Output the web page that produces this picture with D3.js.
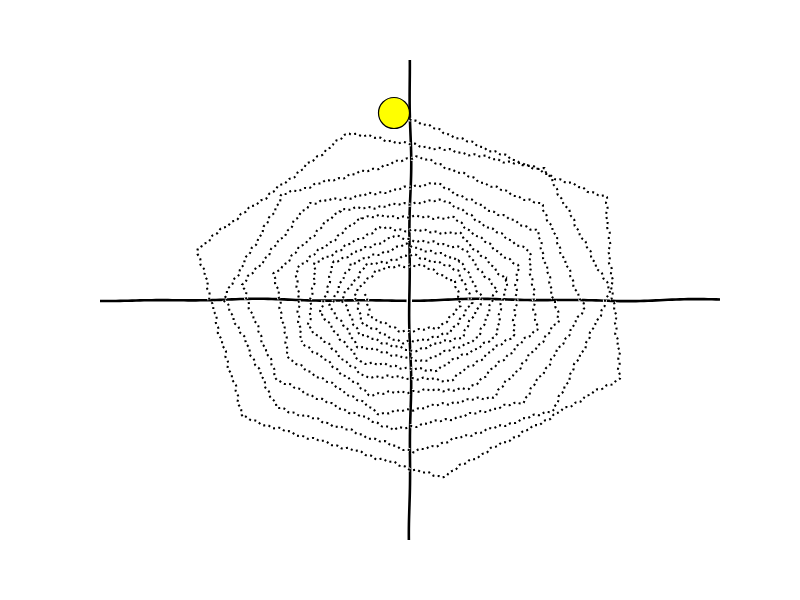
<!DOCTYPE html>
<html>
<head>
<meta charset="utf-8">
<script src="https://cdn.jsdelivr.net/npm/d3@7"></script>
<style>
  html, body { margin: 0; padding: 0; background: #fff; }
  svg { display: block; }
</style>
</head>
<body>
<svg id="chart" width="800" height="600"></svg>
<script>
// ---- data ----
// vertex angle in radians, clockwise from the top
const angles = [0,1,2,3,4,5,6,7,
  7.8,8.6,9.4,10.2,11.0,11.8,12.6,13.4,14.2,15.0,15.8,16.6,17.4,18.2,19.0,19.8,
  20.6,21.4,22.2,23.0,23.8,24.6,25.4,26.2,27.0,27.8,28.6,29.4,30.2,31.0,31.8,32.6,
  33.4,34.2,35.0,35.8,36.6,37.4,38.2,39.0,39.8,40.6,41.4,42.2,43.0,43.8,44.6,45.4,
  46.2,47.0,47.8,48.6,49.4,50.2,51.0,51.8,52.6,53.4,54.2,55.0,55.8,56.6,57.4,58.2,
  59.0,59.8,60.6,61.4,62.2,63.0,63.8,64.6,65.4,66.2,67.0,67.8];
// horizontal radius of each vertex
const radiusX = [2.22,2.32,2.31,2.20,2.21,2.22,2.17,2.05,
  2.01,1.97,1.93,1.90,1.86,1.84,1.81,1.78,1.75,1.74,1.72,1.71,1.69,1.65,1.60,1.56,
  1.52,1.49,1.45,1.42,1.40,1.38,1.36,1.35,1.33,1.29,1.26,1.22,1.20,1.19,1.17,1.16,
  1.14,1.12,1.10,1.08,1.06,1.04,1.02,1.01,0.98,0.96,0.94,0.92,0.91,0.90,0.89,0.88,
  0.86,0.84,0.82,0.80,0.78,0.76,0.75,0.73,0.72,0.71,0.69,0.68,0.67,0.65,0.64,0.63,
  0.61,0.60,0.59,0.57,0.56,0.55,0.54,0.52,0.51,0.50,0.48,0.47];
// vertical radius of each vertex
const radiusY = [1.82,1.90,1.89,1.79,1.80,1.80,1.74,1.75,
  1.71,1.61,1.52,1.50,1.48,1.46,1.44,1.41,1.38,1.35,1.31,1.28,1.25,1.21,1.18,1.18,
  1.17,1.17,1.16,1.12,1.09,1.05,1.03,1.02,1.01,1.00,0.99,0.96,0.94,0.91,0.89,0.88,
  0.87,0.86,0.84,0.82,0.79,0.76,0.75,0.75,0.75,0.74,0.72,0.70,0.68,0.65,0.64,0.64,
  0.63,0.62,0.60,0.58,0.57,0.55,0.54,0.53,0.52,0.52,0.50,0.48,0.47,0.45,0.45,0.44,
  0.44,0.43,0.41,0.39,0.37,0.36,0.35,0.34,0.33,0.32,0.31,0.30];
// the yellow circle
const sunX = [-0.16];
const sunY = [1.87];
// axis limits
const xLimits = [-3.1, 3.1];
const yLimits = [-2.4, 2.4];

// ---- layout ----
const svg = d3.select("#chart");
const plotLeft = 100, plotRight = 720, plotTop = 60, plotBottom = 540;
const x = d3.scaleLinear().domain(xLimits).range([plotLeft, plotRight]);
const y = d3.scaleLinear().domain(yLimits).range([plotBottom, plotTop]);

const pts = angles.map((a, i) => [
  x(radiusX[i] * Math.sin(a)),
  y(radiusY[i] * Math.cos(a))
]);

// hand-drawn (xkcd-like) jitter applied to a pixel polyline
function sketch(poly, amp, step, seed) {
  const out = [];
  let s = 0;
  for (let i = 0; i < poly.length - 1; i++) {
    const [x0, y0] = poly[i], [x1, y1] = poly[i + 1];
    const len = Math.hypot(x1 - x0, y1 - y0);
    if (len === 0) continue;
    const nx = -(y1 - y0) / len, ny = (x1 - x0) / len;
    const n = Math.max(1, Math.round(len / step));
    for (let j = 0; j < n; j++) {
      const t = j / n, ss = s + t * len;
      const off = amp * (0.45 * Math.sin(ss / 6 + seed) + 0.5 * Math.sin(ss / 1.9 + seed * 1.7) + 0.3 * Math.sin(ss / 21 + seed * 0.3));
      out.push([x0 + (x1 - x0) * t + nx * off, y0 + (y1 - y0) * t + ny * off]);
    }
    s += len;
  }
  out.push(poly[poly.length - 1]);
  return out;
}

function wiggleLine(x0, y0, x1, y1, amp, seed) {
  const len = Math.hypot(x1 - x0, y1 - y0);
  const n = Math.max(2, Math.round(len / 4));
  const nx = -(y1 - y0) / len, ny = (x1 - x0) / len;
  const out = [];
  for (let i = 0; i <= n; i++) {
    const t = i / n, s = t * len;
    const off = amp * (0.7 * Math.sin(s / 38 + seed) + 0.45 * Math.sin(s / 17 + seed * 2.3));
    out.push([x0 + (x1 - x0) * t + nx * off, y0 + (y1 - y0) * t + ny * off]);
  }
  return d3.line()(out);
}

// ---- axes (spines through zero, no ticks) ----
const gx = svg.append("g").attr("transform", `translate(0,${y(0)})`)
  .call(d3.axisBottom(x).tickValues([]).tickSizeOuter(0));
const gy = svg.append("g").attr("transform", `translate(${x(0)},0)`)
  .call(d3.axisLeft(y).tickValues([]).tickSizeOuter(0));

function sketchDomain(g, horiz, seed) {
  const dom = g.select(".domain");
  const d = horiz
    ? wiggleLine(x.range()[0], 0, x.range()[1], 0, 1.1, seed)
    : wiggleLine(0, y.range()[1], 0, y.range()[0], 1.1, seed);
  dom.attr("d", d).attr("stroke", "#000").attr("stroke-width", 2.6)
     .attr("fill", "none").attr("stroke-linecap", "butt");
  g.insert("path", ".domain").attr("d", d).attr("stroke", "#fff")
     .attr("stroke-width", 5.5).attr("fill", "none");
}
sketchDomain(gx, true, 0.7);
sketchDomain(gy, false, 2.1);

// ---- spiral ----
const line = d3.line();
const dSpiral = line(sketch(pts, 1.7, 1.0, 0.4));
svg.append("path")
  .attr("d", dSpiral)
  .attr("fill", "none")
  .attr("stroke", "#fff")
  .attr("stroke-width", 4)
  .attr("stroke-dasharray", "2,3.3");
svg.append("path")
  .attr("d", dSpiral)
  .attr("fill", "none")
  .attr("stroke", "#000")
  .attr("stroke-width", 2.1)
  .attr("stroke-dasharray", "2,3.3");

// ---- yellow circle ----
svg.selectAll("circle.sun").data(sunX.map((v, i) => [v, sunY[i]]))
  .join("circle")
  .attr("class", "sun")
  .attr("cx", d => x(d[0]))
  .attr("cy", d => y(d[1]))
  .attr("r", 15.5)
  .attr("fill", "#ffff00")
  .attr("stroke", "#000")
  .attr("stroke-width", 1.2);
</script>
</body>
</html>
